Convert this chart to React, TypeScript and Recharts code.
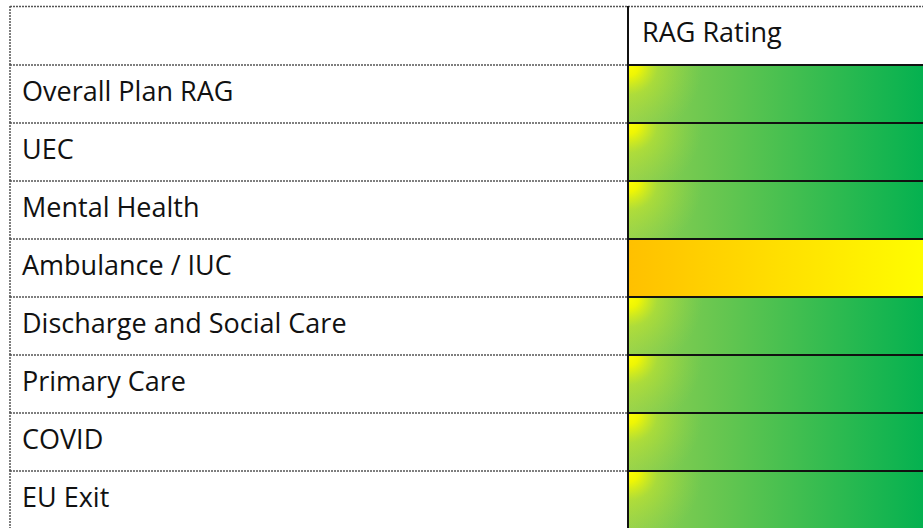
import React from 'react';
import { BarChart, Bar, XAxis, YAxis } from 'recharts';

const headerLabels = ['', 'RAG Rating'];
const categories = [
  'Overall Plan RAG',
  'UEC',
  'Mental Health',
  'Ambulance / IUC',
  'Discharge and Social Care',
  'Primary Care',
  'COVID',
  'EU Exit',
];
const ragRatings = ['G', 'G', 'G', 'A', 'G', 'G', 'G', 'G'];

const rows = [
  { name: headerLabels[0], header: headerLabels[1], rag: null as string | null, span: 1 },
  ...categories.map((name, i) => ({ name, header: null as string | null, rag: ragRatings[i], span: 1 })),
];

const FONT = '"Open Sans", Carlito, Calibri, sans-serif';
const TABLE_LEFT = 10;
const TEXT_SIZE = 27;

const dotted = { stroke: '#555', strokeWidth: 1.5, strokeDasharray: '2 1' };

const RagCell = (props: any) => {
  const { x, y, width, height, payload, index } = props;
  const bottom = y + height;
  const w = width + 10;
  return (
    <g>
      <defs>
        <linearGradient id={`lin-${index}`} x1="0" y1="0" x2="1" y2="0">
          {payload.rag === 'A' ? (
            <>
              <stop offset="0%" stopColor="#ffc000" />
              <stop offset="100%" stopColor="#ffff00" />
            </>
          ) : (
            <>
              <stop offset="0%" stopColor="#92d050" />
              <stop offset="100%" stopColor="#00b050" />
            </>
          )}
        </linearGradient>
        <radialGradient id={`spot-${index}`} gradientUnits="userSpaceOnUse" cx={x} cy={y} r={75}>
          <stop offset="0%" stopColor="#ffff00" stopOpacity={1} />
          <stop offset="15%" stopColor="#f4f800" stopOpacity={0.95} />
          <stop offset="40%" stopColor="#d4ec20" stopOpacity={0.45} />
          <stop offset="100%" stopColor="#b0dc40" stopOpacity={0} />
        </radialGradient>
      </defs>
      {payload.header !== null ? (
        <>
          <line x1={TABLE_LEFT} x2={x + w} y1={y - 0.5} y2={y - 0.5} {...dotted} />
          <text x={x + 14} y={y + 35} fontFamily={FONT} fontSize={TEXT_SIZE} fill="#111">
            {payload.header}
          </text>
          <line x1={TABLE_LEFT} x2={x} y1={bottom} y2={bottom} {...dotted} />
        </>
      ) : (
        <>
          <rect x={x} y={y} width={w} height={height} fill={`url(#lin-${index})`} />
          {payload.rag === 'G' && <rect x={x} y={y} width={w} height={height} fill={`url(#spot-${index})`} />}
          <line x1={TABLE_LEFT} x2={x} y1={bottom} y2={bottom} {...dotted} />
          <line x1={x} x2={x + w} y1={y} y2={y} stroke="#111" strokeWidth={2} />
          <line x1={x} x2={x + w} y1={bottom} y2={bottom} stroke="#111" strokeWidth={2} />
        </>
      )}
      <line x1={TABLE_LEFT} x2={TABLE_LEFT} y1={y - 1} y2={bottom} {...dotted} />
      <line x1={x} x2={x} y1={y - 1} y2={bottom + 1} stroke="#111" strokeWidth={2} />
    </g>
  );
};

const RowLabel = (props: any) => {
  const { y, payload } = props;
  if (!payload.value) return null;
  return (
    <text x={TABLE_LEFT + 12} y={y + 7} fontFamily={FONT} fontSize={TEXT_SIZE} fill="#111">
      {payload.value}
    </text>
  );
};

export default function App() {
  return (
    <div style={{ position: 'absolute', left: 0, top: 0, width: 923, height: 528, overflow: 'hidden', background: '#fff' }}>
      <BarChart
        width={923}
        height={529}
        data={rows}
        layout="vertical"
        barCategoryGap={0}
        margin={{ top: 7, right: 0, bottom: 0, left: TABLE_LEFT }}
      >
        <XAxis type="number" domain={[0, 1]} hide />
        <YAxis
          type="category"
          dataKey="name"
          width={618}
          interval={0}
          axisLine={false}
          tickLine={false}
          tick={RowLabel}
        />
        <Bar dataKey="span" shape={RagCell} isAnimationActive={false} />
      </BarChart>
    </div>
  );
}
